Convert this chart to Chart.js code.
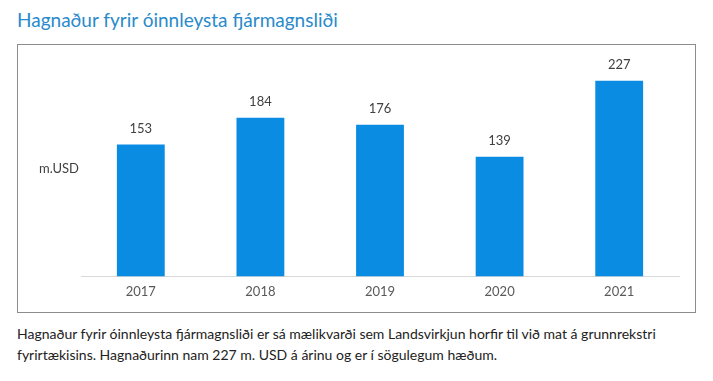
<!DOCTYPE html>
<html>
<head>
<meta charset="utf-8">
<script src="https://cdn.jsdelivr.net/npm/chart.js@4.4.1/dist/chart.umd.min.js"></script>
<style>
  body { margin: 0; background: #fff; font-family: Lato, "Open Sans", sans-serif; }
  #titill { position: absolute; left: 17px; top: 8px; font-size: 19px; color: #2a8acb; white-space: nowrap; }
  #rammi { position: absolute; left: 17px; top: 44px; width: 677px; height: 267px; border: 1px solid #8c8c8c; }
  #eining { position: absolute; left: 21px; top: 115px; font-size: 13px; color: #404040; }
  #texti { position: absolute; left: 17px; top: 323px; width: 694px; font-size: 14px; line-height: 21px; color: #222; }
</style>
</head>
<body>
<div id="titill">Hagnaður fyrir óinnleysta fjármagnsliði</div>
<div id="rammi">
  <canvas id="graf" width="677" height="267"></canvas>
  <div id="eining">m.USD</div>
</div>
<div id="texti">Hagnaður fyrir óinnleysta fjármagnsliði er sá mælikvarði sem Landsvirkjun horfir til við mat á grunnrekstri fyrirtækisins. Hagnaðurinn nam 227 m. USD á árinu og er í sögulegum hæðum.</div>

<script>
// gögn lesin af myndinni
const ar = ["2017", "2018", "2019", "2020", "2021"];
const hagnadur = [153, 184, 176, 139, 227];

// teiknar gildin fyrir ofan súlurnar
const gildiPlugin = {
  id: 'gildi',
  afterDatasetsDraw(chart) {
    const ctx = chart.ctx;
    ctx.save();
    ctx.font = '13px Lato, "Open Sans", sans-serif';
    ctx.fillStyle = '#404040';
    ctx.textAlign = 'center';
    ctx.textBaseline = 'middle';
    chart.getDatasetMeta(0).data.forEach((bar, i) => {
      ctx.fillText(chart.data.datasets[0].data[i], bar.x, bar.y - 16);
    });
    ctx.restore();
  }
};

new Chart(document.getElementById('graf'), {
  type: 'bar',
  data: {
    labels: ar,
    datasets: [{
      data: hagnadur,
      backgroundColor: '#0b8ce3',
      barPercentage: 0.4,
      categoryPercentage: 1
    }]
  },
  options: {
    responsive: false,
    animation: false,
    layout: { padding: { top: 16, left: 63, right: 16, bottom: 4 } },
    plugins: { legend: { display: false }, tooltip: { enabled: false } },
    scales: {
      x: {
        grid: { display: false, drawTicks: false },
        border: { display: true, color: '#d9d9d9' },
        ticks: { padding: 8, color: '#595959', font: { family: 'Lato', size: 13 } }
      },
      y: { display: false, min: 0, max: 250 }
    }
  },
  plugins: [gildiPlugin]
});
</script>
</body>
</html>
